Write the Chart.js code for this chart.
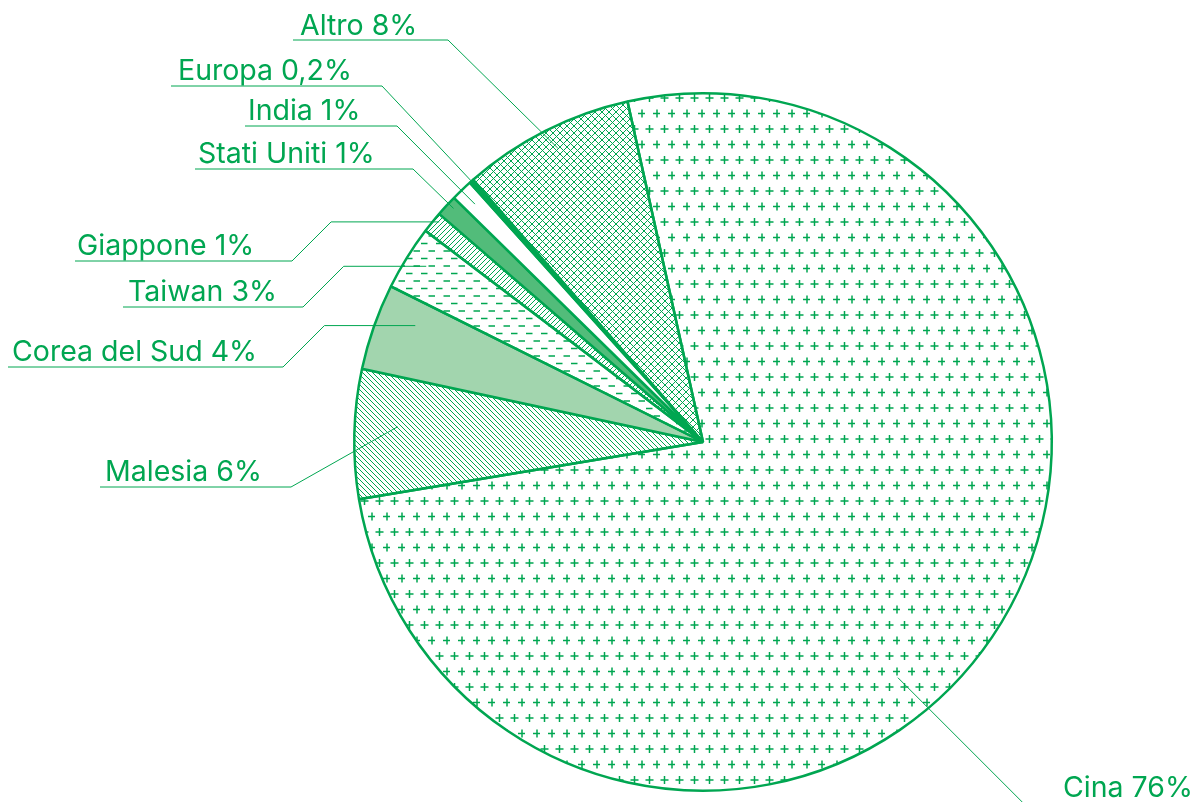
<!DOCTYPE html>
<html>
<head>
<meta charset="utf-8">
<script src="https://cdn.jsdelivr.net/npm/chart.js@4.4.1/dist/chart.umd.min.js"></script>
<style>
  html, body { margin: 0; padding: 0; background: #fff; }
  #wrap { width: 1200px; height: 802px; position: relative; }
</style>
</head>
<body>
<div id="wrap"><canvas id="chart"></canvas></div>
<script>
const countries = ['Cina', 'Malesia', 'Corea del Sud', 'Taiwan', 'Giappone', 'Stati Uniti', 'India', 'Europa', 'Altro'];
const shares = [76, 6, 4, 3, 1, 1, 1, 0.2, 8];
const shareLabels = ['76%', '6%', '4%', '3%', '1%', '1%', '1%', '0,2%', '8%'];

const GREEN = '#00a651';

// small tiles for the hatch fills
function tile(w, h, draw) {
    const c = document.createElement('canvas');
    c.width = w; c.height = h;
    const g = c.getContext('2d');
    g.strokeStyle = GREEN;
    g.fillStyle = GREEN;
    draw(g);
    return g.createPattern(c, 'repeat');
}

const plusFill = tile(15, 31, g => {
    g.lineWidth = 1.5;
    [[4.5, 5], [12, 20.5]].forEach(([x, y]) => {
        g.beginPath();
        g.moveTo(x - 4, y); g.lineTo(x + 4, y);
        g.moveTo(x, y - 4); g.lineTo(x, y + 4);
        g.stroke();
    });
});
const backFill = tile(5, 5, g => {
    g.lineWidth = 1;
    g.beginPath();
    g.moveTo(-1, -1); g.lineTo(6, 6);
    g.moveTo(-1, 4); g.lineTo(1, 6);
    g.moveTo(4, -1); g.lineTo(6, 1);
    g.stroke();
});
const fwdFill = tile(5, 5, g => {
    g.lineWidth = 1;
    g.beginPath();
    g.moveTo(-1, 6); g.lineTo(6, -1);
    g.moveTo(-1, 1); g.lineTo(1, -1);
    g.moveTo(4, 6); g.lineTo(6, 4);
    g.stroke();
});
const dashFill = tile(15, 15, g => {
    g.lineWidth = 1.5;
    g.beginPath();
    g.moveTo(1, 3.5); g.lineTo(7.5, 3.5);
    g.moveTo(8.5, 11); g.lineTo(15, 11);
    g.stroke();
});
const crossFill = tile(7, 7, g => {
    g.lineWidth = 1;
    g.beginPath();
    g.moveTo(-1, -1); g.lineTo(8, 8);
    g.moveTo(-1, 8); g.lineTo(8, -1);
    g.stroke();
});

const fills = [plusFill, backFill, '#a2d5ae', dashFill, fwdFill, '#52bc7a', '#ffffff', GREEN, crossFill];

// where each caption sits and where its leader touches the slice
const callouts = [
    { tx: 1063, ty: 797, ly: 806, x0: 1200, x1: null, side: 'right', af: 0.56, rf: 0.877 },
    { tx: 105, ty: 481, ly: 487, x0: 100, x1: 291, af: 0.57, rf: 0.877 },
    { tx: 12, ty: 361, ly: 367, x0: 8, x1: 283, bend: true, af: 0.69, rf: 0.89 },
    { tx: 128, ty: 301, ly: 307, x0: 123, x1: 303, bend: true, af: 0.55, rf: 0.94 },
    { tx: 77, ty: 255, ly: 261, x0: 75, x1: 292, bend: true, af: 0.72, rf: 0.985 },
    { tx: 198, ty: 163, ly: 169, x0: 195, x1: 413, af: 0.63, rf: 0.98 },
    { tx: 248, ty: 120, ly: 126, x0: 245, x1: 397, af: 0.49, rf: 0.945 },
    { tx: 178, ty: 80, ly: 86, x0: 171, x1: 382, af: 0.5, rf: 1.0 },
    { tx: 300, ty: 35, ly: 40, x0: 293, x1: 448, af: 0.52, rf: 0.94 }
];

const calloutPlugin = {
    id: 'callouts',
    afterDraw(chart) {
        const ctx = chart.ctx;
        const meta = chart.getDatasetMeta(0);
        ctx.save();
        ctx.strokeStyle = GREEN;
        ctx.fillStyle = GREEN;
        ctx.lineWidth = 1;
        ctx.font = '28.5px Inter';
        ctx.textBaseline = 'alphabetic';
        meta.data.forEach((arc, i) => {
            const c = callouts[i];
            const p = arc.getProps(['x', 'y', 'startAngle', 'endAngle', 'outerRadius']);
            const a = p.startAngle + (p.endAngle - p.startAngle) * c.af;
            const px = p.x + Math.cos(a) * p.outerRadius * c.rf;
            const py = p.y + Math.sin(a) * p.outerRadius * c.rf;
            ctx.beginPath();
            if (c.side === 'right') {
                const ex = px + (c.ly - py);
                ctx.moveTo(px, py);
                ctx.lineTo(ex, c.ly);
                ctx.lineTo(c.x0, c.ly);
            } else {
                ctx.moveTo(c.x0, c.ly);
                ctx.lineTo(c.x1, c.ly);
                if (c.bend) {
                    ctx.lineTo(c.x1 + (c.ly - py), py);
                }
                ctx.lineTo(px, py);
            }
            ctx.stroke();
            ctx.fillText(countries[i] + ' ' + shareLabels[i], c.tx, c.ty);
        });
        ctx.restore();
    }
};

const ctx = document.getElementById('chart').getContext('2d');
const chart = new Chart(ctx, {
    type: 'pie',
    data: {
        labels: countries,
        datasets: [{
            data: shares,
            backgroundColor: fills,
            borderColor: GREEN,
            borderWidth: 2.5
        }]
    },
    options: {
        responsive: true,
        maintainAspectRatio: false,
        animation: false,
        events: [],
        rotation: -12.5,
        layout: {
            padding: { left: 353, right: 147, top: 92, bottom: 10 }
        },
        plugins: {
            legend: { display: false },
            tooltip: { enabled: false }
        }
    },
    plugins: [calloutPlugin]
});
</script>
</body>
</html>
